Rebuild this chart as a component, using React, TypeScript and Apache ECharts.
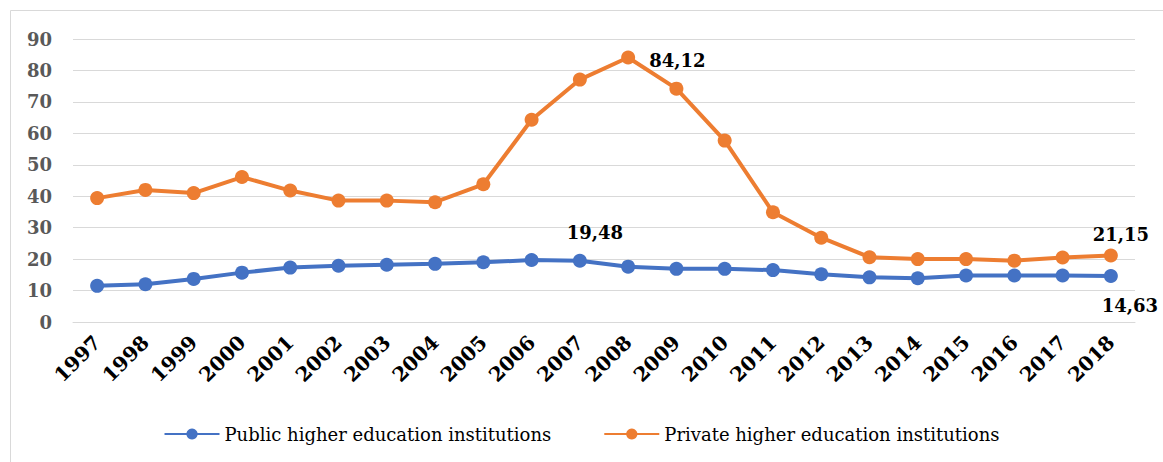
import React, { useEffect, useRef } from "react";
import * as echarts from "echarts";

const years = ["1997","1998","1999","2000","2001","2002","2003","2004","2005","2006","2007","2008","2009","2010","2011","2012","2013","2014","2015","2016","2017","2018"];
const publicValues = [11.5, 12.0, 13.7, 15.7, 17.3, 17.9, 18.2, 18.5, 19.0, 19.7, 19.48, 17.6, 16.9, 16.9, 16.5, 15.2, 14.2, 13.9, 14.8, 14.8, 14.8, 14.63];
const privateValues = [39.4, 42.0, 41.0, 46.1, 41.8, 38.6, 38.6, 38.1, 43.8, 64.3, 77.1, 84.12, 74.2, 57.7, 34.9, 26.8, 20.6, 20.0, 20.0, 19.5, 20.5, 21.15];
const seriesNames = ["Public higher education institutions", "Private higher education institutions"];
const yTicks = { min: 0, max: 90, interval: 10 };

const FONT = "DejaVu Serif";

const fmt = (p: any) => String(p.value).replace(".", ",");
const labelStyle = { show: true, fontFamily: FONT, fontWeight: "bold", fontSize: 18, color: "#000", formatter: fmt };

export default function App() {
  const ref = useRef<HTMLDivElement>(null);
  useEffect(() => {
    if (!ref.current) return;
    const chart = echarts.init(ref.current, null, { renderer: "svg" });
    const pubData = publicValues.map((v, i) => {
      if (i === 10) return { value: v, label: { ...labelStyle, position: "top", offset: [15, -7] } };
      if (i === 21) return { value: v, label: { ...labelStyle, position: "bottom", offset: [19, 9] } };
      return v;
    });
    const privData = privateValues.map((v, i) => {
      if (i === 11) return { value: v, label: { ...labelStyle, position: "right", distance: 14, offset: [0, 3] } };
      if (i === 21) return { value: v, label: { ...labelStyle, position: "top", offset: [10, 0] } };
      return v;
    });
    chart.setOption({
      animation: false,
      backgroundColor: "#fff",
      textStyle: { fontFamily: FONT },
      graphic: [
        { type: "rect", shape: { x: 10.5, y: 10.5, width: 1200, height: 500 }, style: { fill: "none", stroke: "#d9d9d9", lineWidth: 1 }, silent: true },
      ],
      grid: { left: 73, right: 28, top: 39, bottom: 140 },
      legend: {
        bottom: 14,
        left: "center",
        itemWidth: 55,
        itemHeight: 14,
        itemGap: 52,
        textStyle: { fontFamily: FONT, fontSize: 18, color: "#000" },
        data: seriesNames,
      },
      xAxis: {
        type: "category",
        data: years,
        boundaryGap: true,
        axisLine: { show: true, lineStyle: { color: "#d9d9d9" } },
        axisTick: { show: false },
        axisLabel: { rotate: 45, margin: 17, interval: 0, fontFamily: FONT, fontWeight: "bold", fontSize: 20, color: "#000" },
      },
      yAxis: {
        type: "value",
        min: yTicks.min,
        max: yTicks.max,
        interval: yTicks.interval,
        axisLine: { show: false },
        axisTick: { show: false },
        splitLine: { lineStyle: { color: "#d9d9d9", width: 1 } },
        axisLabel: { margin: 21, fontFamily: FONT, fontWeight: "bold", fontSize: 18, color: "#595959" },
      },
      series: [
        {
          name: seriesNames[0],
          type: "line",
          data: pubData,
          symbol: "circle",
          symbolSize: 14,
          lineStyle: { width: 4, color: "#4472C4" },
          itemStyle: { color: "#4472C4" },
          z: 3,
        },
        {
          name: seriesNames[1],
          type: "line",
          data: privData,
          symbol: "circle",
          symbolSize: 14,
          lineStyle: { width: 4, color: "#ED7D31" },
          itemStyle: { color: "#ED7D31" },
          z: 2,
        },
      ],
    });
    return () => chart.dispose();
  }, []);
  return <div ref={ref} style={{ position: "fixed", left: 0, top: 0, width: 1163, height: 462 }} />;
}
